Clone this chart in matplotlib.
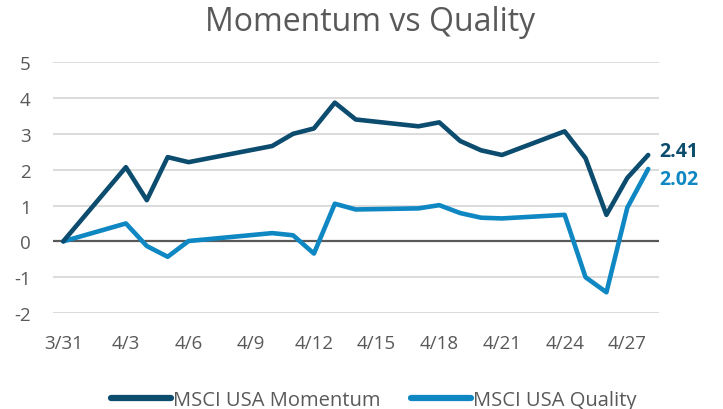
import pandas as pd
import matplotlib.pyplot as plt

# ===================== data =====================
dates = ['2020-03-31', '2020-04-03', '2020-04-04', '2020-04-05', '2020-04-06',
         '2020-04-10', '2020-04-11', '2020-04-12', '2020-04-13', '2020-04-14',
         '2020-04-17', '2020-04-18', '2020-04-19', '2020-04-20', '2020-04-21',
         '2020-04-24', '2020-04-25', '2020-04-26', '2020-04-27', '2020-04-28']
momentum = [0.0, 2.07, 1.15, 2.35, 2.21, 2.66, 3.00, 3.15, 3.87, 3.40,
            3.21, 3.32, 2.80, 2.54, 2.41, 3.07, 2.32, 0.74, 1.77, 2.41]
quality = [0.0, 0.50, -0.13, -0.43, 0.01, 0.23, 0.17, -0.34, 1.05, 0.89,
           0.92, 1.01, 0.79, 0.66, 0.64, 0.74, -1.00, -1.42, 0.94, 2.02]
tick_dates = ['2020-03-31', '2020-04-03', '2020-04-06', '2020-04-09', '2020-04-12',
              '2020-04-15', '2020-04-18', '2020-04-21', '2020-04-24', '2020-04-27']
tick_labels = ['3/31', '4/3', '4/6', '4/9', '4/12', '4/15', '4/18', '4/21', '4/24', '4/27']

df = pd.DataFrame({'date': pd.to_datetime(dates), 'mom': momentum, 'qual': quality})

c_mom = '#0C4C6E'
c_qual = '#0E87C2'
gray = '#595959'

plt.rcParams['font.family'] = ['Open Sans', 'DejaVu Sans']
plt.rcParams['axes.unicode_minus'] = False

# ===================== plot =====================
fig = plt.figure(figsize=(7.23, 4.10), dpi=100)
ax = fig.add_axes([0.073, 0.234, 0.838, 0.612])

for y in range(-2, 6):
    if y != 0:
        ax.axhline(y, color='#D9D9D9', lw=1.3, zorder=1)
ax.axhline(0, color=gray, lw=1.6, zorder=2)

ax.plot(df['date'], df['mom'], color=c_mom, lw=3.3, label='MSCI USA Momentum',
        solid_capstyle='round', zorder=4)
ax.plot(df['date'], df['qual'], color=c_qual, lw=3.3, label='MSCI USA Quality',
        solid_capstyle='round', zorder=3)

# end labels
ax.annotate(f"{momentum[-1]:.2f}", (df['date'].iloc[-1], momentum[-1]),
            xytext=(8, 3), textcoords='offset points', color=c_mom,
            fontsize=14, fontweight='bold', va='center', ha='left', annotation_clip=False)
ax.annotate(f"{quality[-1]:.2f}", (df['date'].iloc[-1], quality[-1]),
            xytext=(8, -7), textcoords='offset points', color=c_qual,
            fontsize=14, fontweight='bold', va='center', ha='left', annotation_clip=False)

start = pd.to_datetime(dates[0]) - pd.Timedelta(hours=12)
end = pd.to_datetime(dates[-1]) + pd.Timedelta(hours=12)
ax.set_xlim(start, end)
ax.set_ylim(-2, 5)
ax.set_yticks(range(-2, 6))
ax.set_xticks(pd.to_datetime(tick_dates))
ax.set_xticklabels(tick_labels)
ax.tick_params(axis='both', length=0, colors=gray, labelsize=13.5)
ax.tick_params(axis='y', pad=16)
ax.tick_params(axis='x', pad=15)
for s in ax.spines.values():
    s.set_visible(False)

fig.suptitle('Momentum vs Quality', x=0.512, y=0.985, fontsize=23, color=gray)

leg = fig.legend(loc='center', bbox_to_anchor=(0.517, 0.022), ncol=2, frameon=False,
                 fontsize=14.5, labelcolor=gray, handlelength=3.0, handletextpad=0.1,
                 columnspacing=1.5)
for h in leg.get_lines():
    h.set_linewidth(4.5)

fig.savefig('out.png', dpi=100)
